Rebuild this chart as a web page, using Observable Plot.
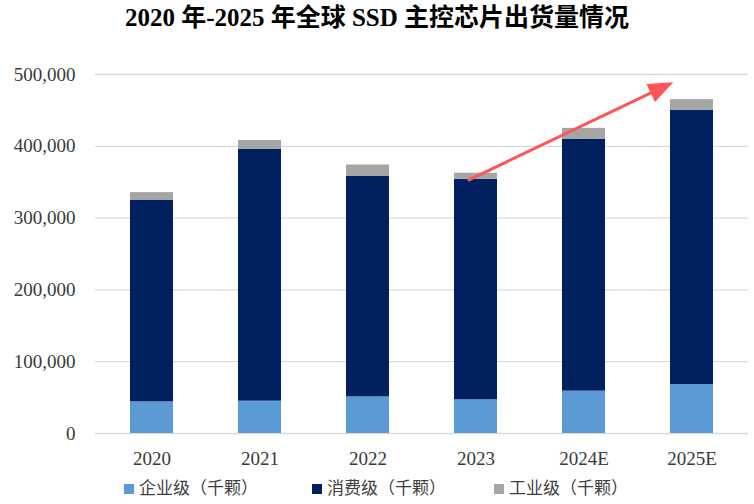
<!DOCTYPE html>
<html>
<head>
<meta charset="utf-8">
<script src="https://cdn.jsdelivr.net/npm/d3@7"></script>
<script src="https://cdn.jsdelivr.net/npm/@observablehq/plot@0.6"></script>
<style>
  html, body { margin: 0; padding: 0; background: #fff; }
  #wrap { position: relative; width: 754px; height: 504px; overflow: hidden; }
  #title { height: 40px; line-height: 36px; text-align: center; font-family: "Liberation Serif", "Noto Sans CJK SC", serif; font-weight: bold; font-size: 25px; color: #000; }
  #legend { position: relative; height: 30px; font-family: "Noto Sans CJK SC", sans-serif; font-size: 17px; color: #404040; }
  .item { position: absolute; top: 0px; display: flex; align-items: center; white-space: nowrap; }
  .sw { width: 10px; height: 10px; margin-right: 5px; margin-top: 4px; }
</style>
</head>
<body>
<div id="wrap">
  <div id="title">2020 年-2025 年全球 SSD 主控芯片出货量情况</div>
  <div id="chart"></div>
  <div id="legend"></div>
</div>
<script>
// ---- data (thousand units) ----
const years = ["2020", "2021", "2022", "2023", "2024E", "2025E"];
const enterprise = [44000, 45000, 51000, 47000, 59000, 68000];   // 企业级
const consumer   = [280500, 351000, 307000, 307000, 351000, 382000]; // 消费级
const industrial = [11000, 12000, 16000, 8500, 15000, 15000];     // 工业级
const seriesNames = ["企业级（千颗）", "消费级（千颗）", "工业级（千颗）"];
const seriesColors = ["#5B9BD5", "#002060", "#A5A5A5"];
const yTicks = [0, 100000, 200000, 300000, 400000, 500000];
// trend arrow annotation (data space)
const arrowFrom = {year: "2023", value: 353300};
const arrowTo = {year: "2025E", value: 497000};

const seriesValues = [enterprise, consumer, industrial];
const rows = [];
seriesNames.forEach((s, si) => {
  years.forEach((y, i) => rows.push({year: y, series: s, value: seriesValues[si][i]}));
});

const chart = Plot.plot({
  width: 754,
  height: 434,
  marginLeft: 95,
  marginRight: 6,
  marginTop: 34,
  marginBottom: 41,
  style: {fontFamily: "'Liberation Serif', serif", fontSize: "19px", color: "#3a3a3a", background: "#fff"},
  x: {domain: years, paddingInner: 0.6, paddingOuter: 0.3, tickSize: 0, tickPadding: 18, label: null},
  y: {domain: [0, 500000], ticks: yTicks, tickFormat: d3.format(","), tickSize: 0, tickPadding: 20, label: null},
  color: {domain: seriesNames, range: seriesColors},
  marks: [
    Plot.ruleY(yTicks, {stroke: "#d9d9d9", strokeWidth: 1.3}),
    Plot.barY(rows, {x: "year", y: "value", fill: "series", order: seriesNames}),
    Plot.arrow([{x1: arrowFrom.year, y1: arrowFrom.value, x2: arrowTo.year, y2: arrowTo.value}], {
      x1: "x1", y1: "y1", x2: "x2", y2: "y2", dx: -7, insetEnd: 13,
      stroke: "#FF5555", strokeWidth: 3, headLength: 8
    })
  ]
});

// Replace the open chevron head with a filled triangular head (reference style)
const arrowG = chart.querySelector('g[aria-label="arrow"]');
if (arrowG) {
  arrowG.querySelectorAll("path").forEach(p => {
    const nums = (p.getAttribute("d") || "").match(/-?\d*\.?\d+(e-?\d+)?/g);
    if (!nums || nums.length < 4) return;
    const [x1, y1, x2, y2] = nums.slice(0, 4).map(Number);
    const L = Math.hypot(x2 - x1, y2 - y1);
    const ux = (x2 - x1) / L, uy = (y2 - y1) / L;
    const hl = 25, hw = 10;
    const bx = x2 - ux * hl, by = y2 - uy * hl;
    p.setAttribute("d", `M${x1},${y1}L${bx + ux * 2},${by + uy * 2}`);
    const head = document.createElementNS("http://www.w3.org/2000/svg", "path");
    head.setAttribute("d", `M${x2},${y2}L${bx - uy * hw},${by + ux * hw}L${bx + uy * hw},${by - ux * hw}Z`);
    head.setAttribute("fill", "#FF5555");
    head.setAttribute("stroke", "none");
    p.parentNode.appendChild(head);
  });
}
document.getElementById("chart").appendChild(chart);

// legend
const legendX = [124, 312, 494];
const legend = document.getElementById("legend");
seriesNames.forEach((s, i) => {
  const it = document.createElement("div");
  it.className = "item";
  it.style.left = legendX[i] + "px";
  const sw = document.createElement("span");
  sw.className = "sw";
  sw.style.background = seriesColors[i];
  const t = document.createElement("span");
  t.textContent = s;
  it.appendChild(sw);
  it.appendChild(t);
  legend.appendChild(it);
});
</script>
</body>
</html>
